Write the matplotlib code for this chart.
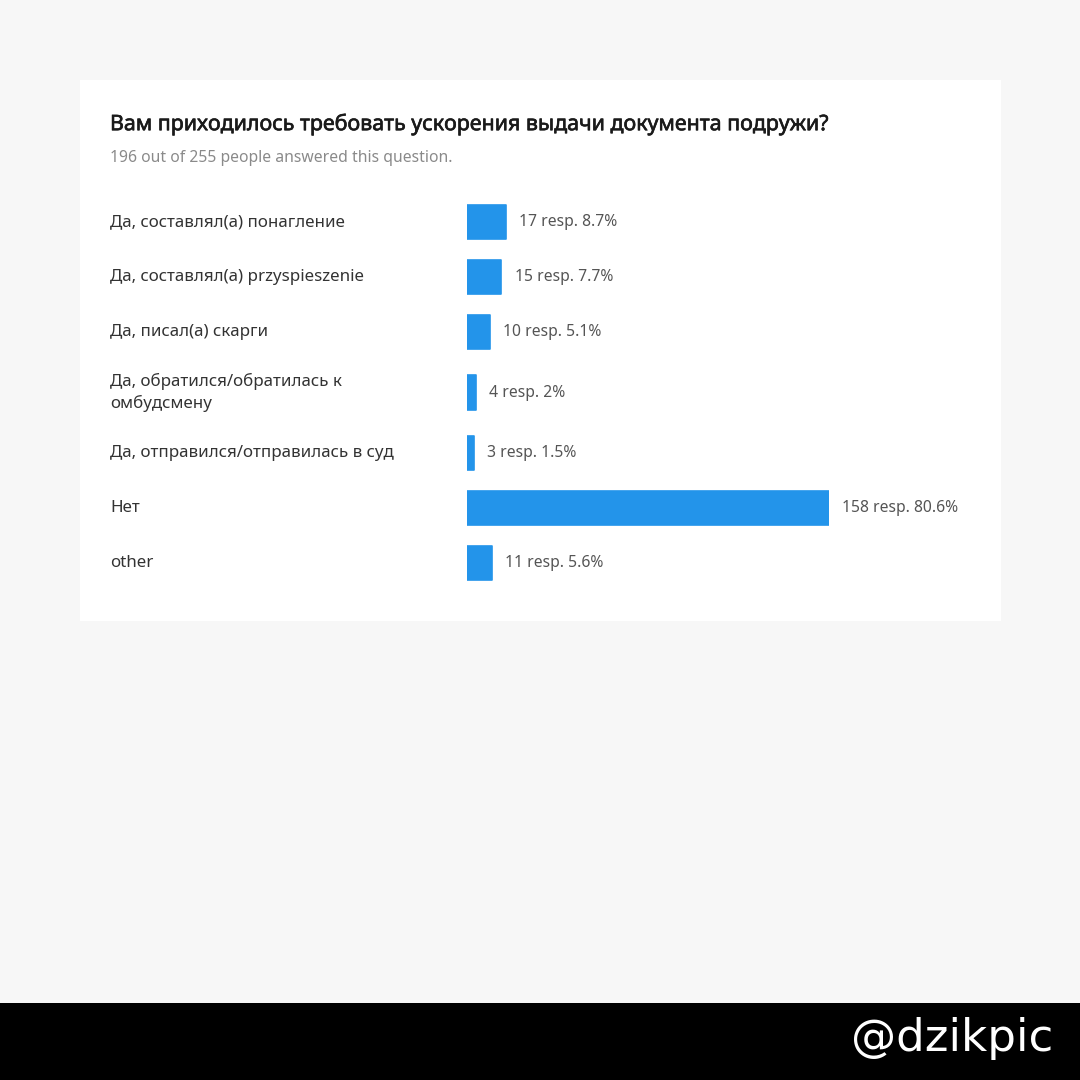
import matplotlib as mpl
mpl.rcParams["font.family"] = ['Noto Sans', 'DejaVu Sans']
import matplotlib.pyplot as plt
import matplotlib.patheffects as pe
from matplotlib.patches import Rectangle
from matplotlib.transforms import blended_transform_factory

# данные опроса
title = 'Вам приходилось требовать ускорения выдачи документа подружи?'
subtitle = '196 out of 255 people answered this question.'
categories = ['Да, составлял(а) понагление',
              'Да, составлял(а) przyspieszenie',
              'Да, писал(а) скарги',
              'Да, обратился/обратилась к\nомбудсмену',
              'Да, отправился/отправилась в суд',
              'Нет',
              'other']
counts = [17, 15, 10, 4, 3, 158, 11]
percents = ['8.7%', '7.7%', '5.1%', '2%', '1.5%', '80.6%', '5.6%']

W, H = 1080, 1080
fig = plt.figure(figsize=(10.8, 10.8), dpi=100)
fig.patch.set_facecolor('#f7f7f7')

def fx(px):
    return px / W
def fy(py):
    return 1 - py / H

# белая карточка и черная полоса
fig.add_artist(Rectangle((fx(80), fy(621)), fx(1001) - fx(80), fy(80) - fy(621),
                         transform=fig.transFigure, facecolor='white', edgecolor='none', zorder=0))
fig.add_artist(Rectangle((0, 0), 1, 1 - 1003 / H, transform=fig.transFigure,
                         facecolor='black', edgecolor='none', zorder=0))

# полужирный заголовок (обводка вместо отсутствующего начертания)
fig.text(fx(110), fy(124), title, fontsize=15.4, color='#1a1a1a',
         va='center', ha='left',
         path_effects=[pe.withStroke(linewidth=0.45, foreground='#1a1a1a')])
fig.text(fx(110), fy(158), subtitle, fontsize=11.3, color='#8a8a8a', va='center', ha='left')

# позиции строк (строка с переносом чуть выше)
ypos = [0, 1, 2, 3.1, 4.2, 5.2, 6.2]
ax = fig.add_axes([fx(467), fy(587.5), fx(829) - fx(467), fy(194.5) - fy(587.5)])
ax.set_xlim(0, 158)
ax.set_ylim(6.645, -0.5)
ax.axis('off')
bars = ax.barh(ypos, counts, height=0.62, color='#2394ea', edgecolor='#2394ea', linewidth=1.2)
for b in bars:
    b.set_joinstyle('round')

trans = blended_transform_factory(fig.transFigure, ax.transData)
for y, cat in zip(ypos, categories):
    ax.text(fx(110), y, cat, transform=trans, fontsize=12.2, color='#333333',
            va='center', ha='left', linespacing=1.45)

for y, c, p in zip(ypos, counts, percents):
    ax.annotate('%d resp. %s' % (c, p), xy=(c, y), xytext=(9.5, 0), textcoords='offset points',
                fontsize=11.3, color='#555555', va='center', ha='left', annotation_clip=False)

fig.text(fx(1053), fy(1039), '@dzikpic', fontsize=32.5, color='white', family='DejaVu Sans',
         ha='right', va='center')

fig.savefig('out.png', dpi=100, facecolor=fig.get_facecolor())
